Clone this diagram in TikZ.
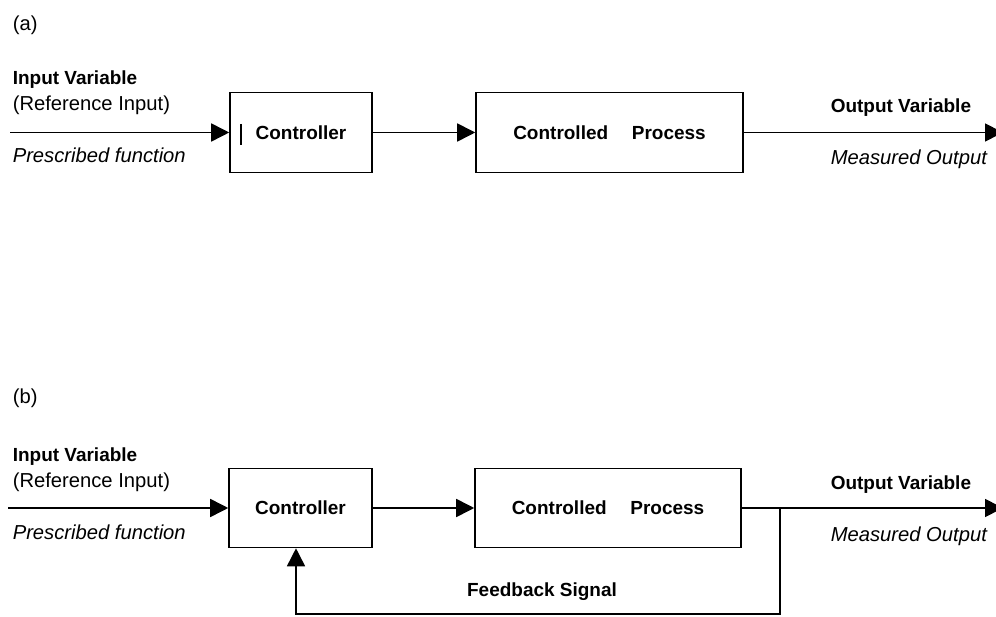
\documentclass[tikz,border=0pt]{standalone}
\usepackage{fontspec}
\setmainfont{Liberation Sans}
\usetikzlibrary{arrows.meta}

\begin{document}
\begin{tikzpicture}[x=0.02cm, y=-0.02cm, line width=0.9pt,
    every node/.style={font=\fontsize{11.5}{13}\selectfont, inner sep=0pt},
    bf/.style={font=\fontsize{10.8}{13}\selectfont\bfseries},
    block/.style={draw, bf, minimum height=1.6cm},
    sig/.style={-{Triangle[length=0.36cm, width=0.36cm]}},
    txt/.style={anchor=base west}]
  \useasboundingbox (0,0) rectangle (996,617);
  % (a) open loop
  \node[txt] (ta) at (12,31) {(a)};
  \node[txt, bf] (inA) at (12,85) {Input Variable};
  \node[txt] (refA) at (12,111) {(Reference Input)};
  \node[txt] (preA) at (12,163) {\textit{Prescribed function}};
  \node[block, minimum width=2.84cm] (ctrlA) at (301,132.5) {Controller};
  \node[block, minimum width=5.34cm] (procA) at (609.5,132.5) {Controlled\hspace{1.25em}Process};
  \node[txt, bf] (outA) at (830,113) {Output Variable};
  \node[txt] (measA) at (830,165) {\textit{Measured Output}};
  \coordinate (startA) at (10,132.5);
  \coordinate (endA) at (1003,132.5);
  \draw [sig] (startA) to (ctrlA);
  \draw [sig] (ctrlA) to (procA);
  \draw [sig] (procA) to (endA);
  \draw (241,124) -- (241,145);
  % (b) closed loop
  \node[txt] (tb) at (12,404) {(b)};
  \node[txt, bf] (inB) at (12,461) {Input Variable};
  \node[txt] (refB) at (12,487) {(Reference Input)};
  \node[txt] (preB) at (12,539) {\textit{Prescribed function}};
  \node[block, minimum width=2.86cm, minimum height=1.58cm] (ctrlB) at (300.5,508) {Controller};
  \node[block, minimum width=5.32cm, minimum height=1.58cm] (procB) at (608,508) {Controlled\hspace{1.25em}Process};
  \node[txt, bf] (outB) at (830,489) {Output Variable};
  \node[txt] (measB) at (830,541) {\textit{Measured Output}};
  \node[bf] (fb) at (542,592) {Feedback Signal};
  \coordinate (startB) at (8,508);
  \coordinate (endB) at (1003,508);
  \coordinate (tap) at (780,508);
  \coordinate (fbR) at (780,614);
  \coordinate (fbL) at (296,614);
  \draw [sig] (startB) to (ctrlB);
  \draw [sig] (ctrlB) to (procB);
  \draw [sig] (procB) to (endB);
  \draw [sig] (tap) -- (fbR) -- (fbL) -- (fbL |- ctrlB.south);
\end{tikzpicture}
\end{document}
